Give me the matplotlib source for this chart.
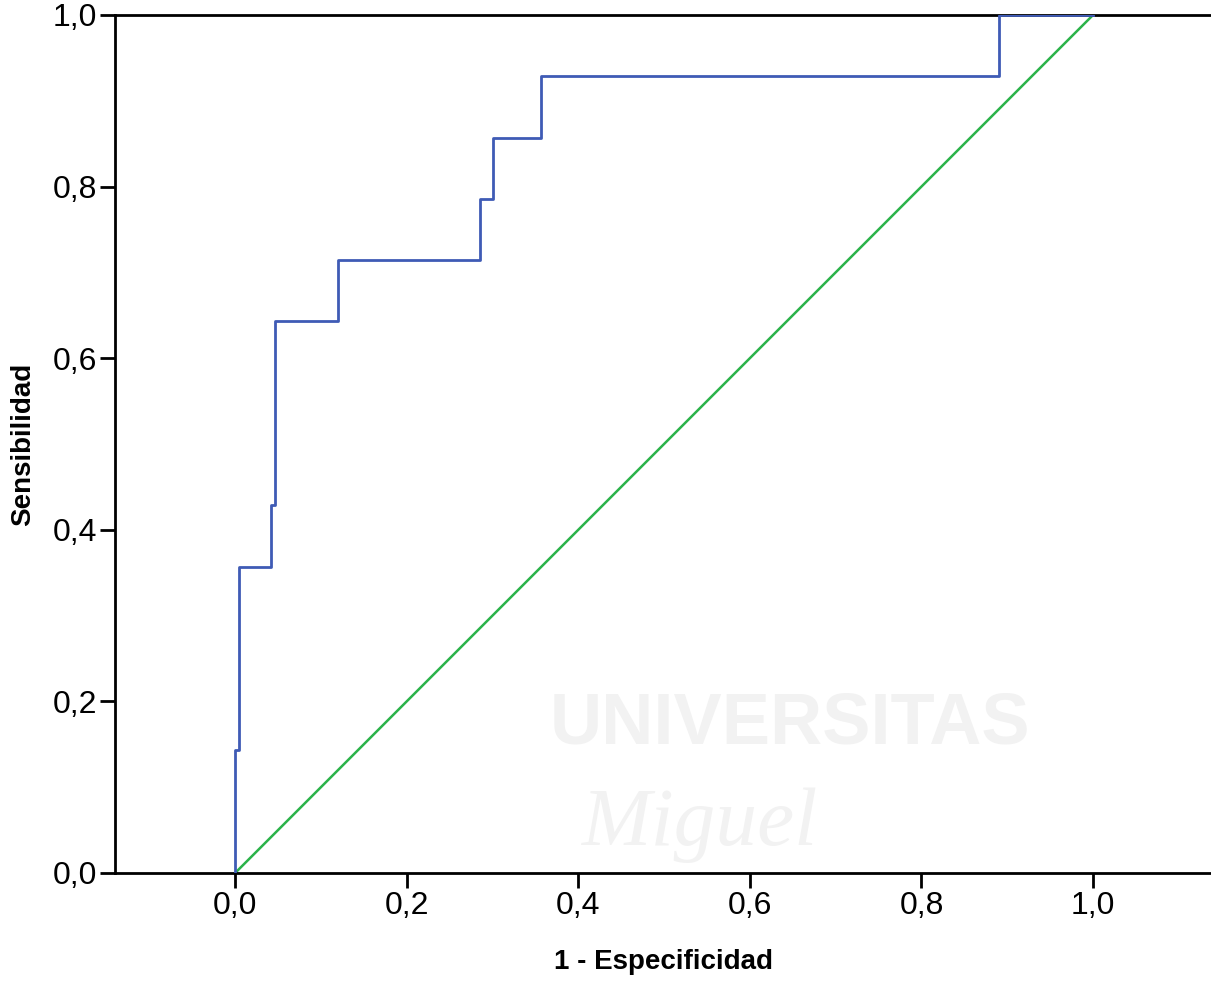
import matplotlib
matplotlib.use("Agg")
import matplotlib.pyplot as plt
from matplotlib.ticker import FixedLocator

# ROC curve data (1 - specificity, sensitivity), step vertices
fpr = [0.0, 0.0, 0.0047, 0.0047, 0.042, 0.042, 0.0466, 0.0466, 0.12, 0.12,
       0.2855, 0.2855, 0.3007, 0.3007, 0.3566, 0.3566, 0.890, 0.890, 1.0]
tpr = [0.0, 0.1429, 0.1429, 0.3571, 0.3571, 0.4286, 0.4286, 0.6429, 0.6429, 0.7143,
       0.7143, 0.7857, 0.7857, 0.8571, 0.8571, 0.9286, 0.9286, 1.0, 1.0]
ref_x = [0.0, 1.0]
ref_y = [0.0, 1.0]
ticks = [0.0, 0.2, 0.4, 0.6, 0.8, 1.0]
tick_labels = ["0,0", "0,2", "0,4", "0,6", "0,8", "1,0"]

plt.rcParams['font.family'] = ['Liberation Sans', 'DejaVu Sans']

fig = plt.figure(figsize=(12.11, 9.85), dpi=100)
W, H = 1211, 985
ax = fig.add_axes([115 / W, (H - 873) / H, (W - 115) / W, 858 / H])

# faint watermark
fig.text(790 / W, 1 - 725 / H, "UNIVERSITAS", fontsize=52, fontweight='bold',
         color='#f2f2f2', ha='center', va='center', zorder=0)
fig.text(700 / W, 1 - 825 / H, "Miguel", fontsize=60, style='italic', family='Liberation Serif',
         color='#f2f2f2', ha='center', va='center', zorder=0)
ax.patch.set_alpha(0)

ax.plot(ref_x, ref_y, color='#2BB34A', lw=1.8, zorder=2)
ax.plot(fpr, tpr, color='#3F5BB5', lw=2.0, zorder=3)

ax.set_xlim(-0.14, 1.1375)
ax.set_ylim(0.0, 1.0)
ax.xaxis.set_major_locator(FixedLocator(ticks))
ax.yaxis.set_major_locator(FixedLocator(ticks))
ax.set_xticklabels(tick_labels)
ax.set_yticklabels(tick_labels)

for s in ['left', 'top', 'bottom']:
    ax.spines[s].set_linewidth(2.0)
    ax.spines[s].set_color('black')
ax.spines['right'].set_visible(False)

ax.tick_params(axis='both', direction='out', length=11, width=2, labelsize=23,
               color='black', pad=2)

ax.set_xlabel("1 - Especificidad", fontsize=20, fontweight='bold', labelpad=20)
ax.set_ylabel("Sensibilidad", fontsize=20, fontweight='bold', labelpad=12)

fig.savefig("out.png", dpi=100)
